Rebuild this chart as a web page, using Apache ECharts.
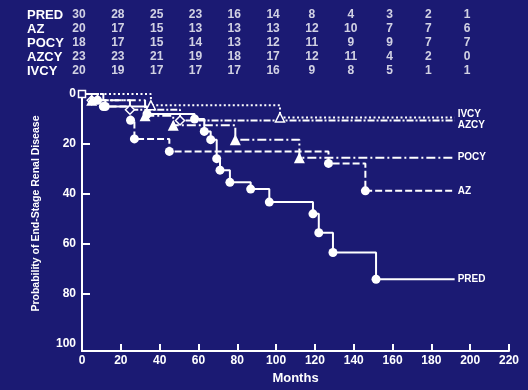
<!DOCTYPE html>
<html><head><meta charset="utf-8">
<script src="https://cdn.jsdelivr.net/npm/echarts@6/dist/echarts.min.js"></script>
<style>html,body{margin:0;padding:0;background:#1b1a73;}#c{width:528px;height:390px;}</style>
</head><body><div id="c"></div>
<script>
// ---- at-risk table ----
const rowNames = ['PRED', 'AZ', 'POCY', 'AZCY', 'IVCY'];
const tableMonths = [0, 20, 40, 60, 80, 100, 120, 140, 160, 180, 200];
const riskPRED = [30, 28, 25, 23, 16, 14, 8, 4, 3, 2, 1];
const riskAZ   = [20, 17, 15, 13, 13, 13, 12, 10, 7, 7, 6];
const riskPOCY = [18, 17, 15, 14, 13, 12, 11, 9, 9, 7, 7];
const riskAZCY = [23, 23, 21, 19, 18, 17, 12, 11, 4, 2, 0];
const riskIVCY = [20, 19, 17, 17, 17, 16, 9, 8, 5, 1, 1];

// ---- Kaplan-Meier steps (month of event, cumulative probability %) ----
const endMonth = 192;
const predT = [8, 12, 33.5, 58, 63, 66.3, 69.4, 71.1, 76.2, 86.9, 96.5, 119, 122, 129.3, 151.5];
const predV = [2.5, 5, 8, 10, 15, 18.3, 25.9, 30.5, 35.4, 38.1, 43.3, 48, 55.6, 63.5, 74.2];
const azT = [11, 25, 27, 45, 127, 146];
const azV = [5, 10.5, 18, 23, 27.8, 38.8];
const pocyT = [5, 32.5, 47, 79, 112];
const pocyV = [2.5, 8.7, 12.5, 18.3, 25.5];
const azcyT = [5, 24.7, 50.5];
const azcyV = [2.5, 6.3, 10.6];
const ivcyT = [35.5, 102];
const ivcyV = [4.5, 9.4];

// ---- axis ticks ----
const xTicks = [0, 20, 40, 60, 80, 100, 120, 140, 160, 180, 200, 220];
const yTicks = [0, 20, 40, 60, 80, 100];

const BG = '#1b1a73';
const FONT = 'Liberation Sans, Arial, sans-serif';

function tableSeries(vals, row) {
  return {
    type: 'scatter', xAxisIndex: 1, yAxisIndex: 1, symbolSize: 0, silent: true,
    data: tableMonths.map((m, i) => [m, row, vals[i]]),
    label: { show: true, position: 'inside', offset: [-3, 0], color: '#fff',
      fontFamily: FONT, fontWeight: 'bold', fontSize: 12,
      formatter: p => String(p.value[2]) }
  };
}

function kmSeries(name, T, V, dash, symbol, hollow, symSize, labelOffset, startSymbol) {
  const data = [];
  data.push(startSymbol ? { value: [0, 0], symbol: 'rect', symbolSize: 7,
      itemStyle: { color: BG, borderColor: '#fff', borderWidth: 1.5 } }
    : { value: [0, 0], symbol: 'none' });
  T.forEach((t, i) => data.push([t, V[i]]));
  data.push({ value: [endMonth, V[V.length - 1]], symbol: 'none' });
  return {
    name, type: 'line', step: 'end', data, symbol, symbolSize: symSize, showAllSymbol: true,
    lineStyle: { color: '#fff', width: 2, type: dash },
    itemStyle: hollow ? { color: BG, borderColor: '#fff', borderWidth: 1.5 }
                      : { color: '#fff', borderColor: '#fff', borderWidth: 0 },
    endLabel: { show: true, distance: 3, offset: labelOffset, formatter: name,
      color: '#fff', fontFamily: FONT, fontWeight: 'bold', fontSize: 10 },
    emphasis: { disabled: true }, silent: true, z: 3
  };
}

const chart = echarts.init(document.getElementById('c'), null, { renderer: 'canvas' });
chart.setOption({
  backgroundColor: BG,
  animation: false,
  grid: [
    { left: 82, right: 19, top: 94, bottom: 36 },
    { left: 82, right: 19, top: 8, height: 70 }
  ],
  xAxis: [
    { type: 'value', gridIndex: 0, min: 0, max: 220, interval: 20,
      name: 'Months', nameLocation: 'middle', nameGap: 20,
      nameTextStyle: { color: '#fff', fontFamily: FONT, fontWeight: 'bold', fontSize: 13 },
      axisLine: { show: true, onZero: false, lineStyle: { color: '#fff', width: 2 } },
      axisTick: { show: true, inside: true, length: 7, customValues: xTicks.slice(1),
        lineStyle: { color: '#fff', width: 2 } },
      axisLabel: { color: '#fff', fontFamily: FONT, fontWeight: 'bold', fontSize: 12, margin: 4,
        customValues: xTicks },
      splitLine: { show: false } },
    { type: 'value', gridIndex: 1, min: 0, max: 220, show: false }
  ],
  yAxis: [
    { type: 'value', gridIndex: 0, inverse: true, min: 0, max: 103, interval: 20,
      name: 'Probability of End-Stage Renal Disease', nameLocation: 'middle', nameGap: 40,
      nameRotate: 90,
      nameTextStyle: { color: '#fff', fontFamily: FONT, fontWeight: 'bold', fontSize: 10.5,
        padding: [0, 0, 0, 18] },
      axisLine: { show: true, lineStyle: { color: '#fff', width: 2 } },
      axisTick: { show: true, inside: true, length: 8, customValues: [20, 40, 60, 80],
        lineStyle: { color: '#fff', width: 2 } },
      axisLabel: { color: '#fff', fontFamily: FONT, fontWeight: 'bold', fontSize: 12, margin: 6,
        customValues: yTicks },
      splitLine: { show: false } },
    { type: 'category', gridIndex: 1, inverse: true, data: rowNames,
      axisLine: { show: false }, axisTick: { show: false }, splitLine: { show: false },
      axisLabel: { interval: 0, align: 'left', margin: 55, color: '#fff', fontFamily: FONT,
        fontWeight: 'bold', fontSize: 13 } }
  ],
  series: [
    tableSeries(riskPRED, 0), tableSeries(riskAZ, 1), tableSeries(riskPOCY, 2),
    tableSeries(riskAZCY, 3), tableSeries(riskIVCY, 4),
    kmSeries('IVCY', ivcyT, ivcyV, [2, 2.5], 'triangle', true, 9, [0, -3], false),
    kmSeries('AZCY', azcyT, azcyV, [7, 2, 2, 2], 'diamond', true, 9, [0, 5], false),
    kmSeries('POCY', pocyT, pocyV, [9, 3, 2, 3], 'triangle', false, 11, [0, 0], false),
    kmSeries('AZ', azT, azV, [7, 3], 'circle', false, 9, [0, 0], false),
    kmSeries('PRED', predT, predV, 'solid', 'circle', false, 9, [0, 0], true)
  ]
});
</script></body></html>
